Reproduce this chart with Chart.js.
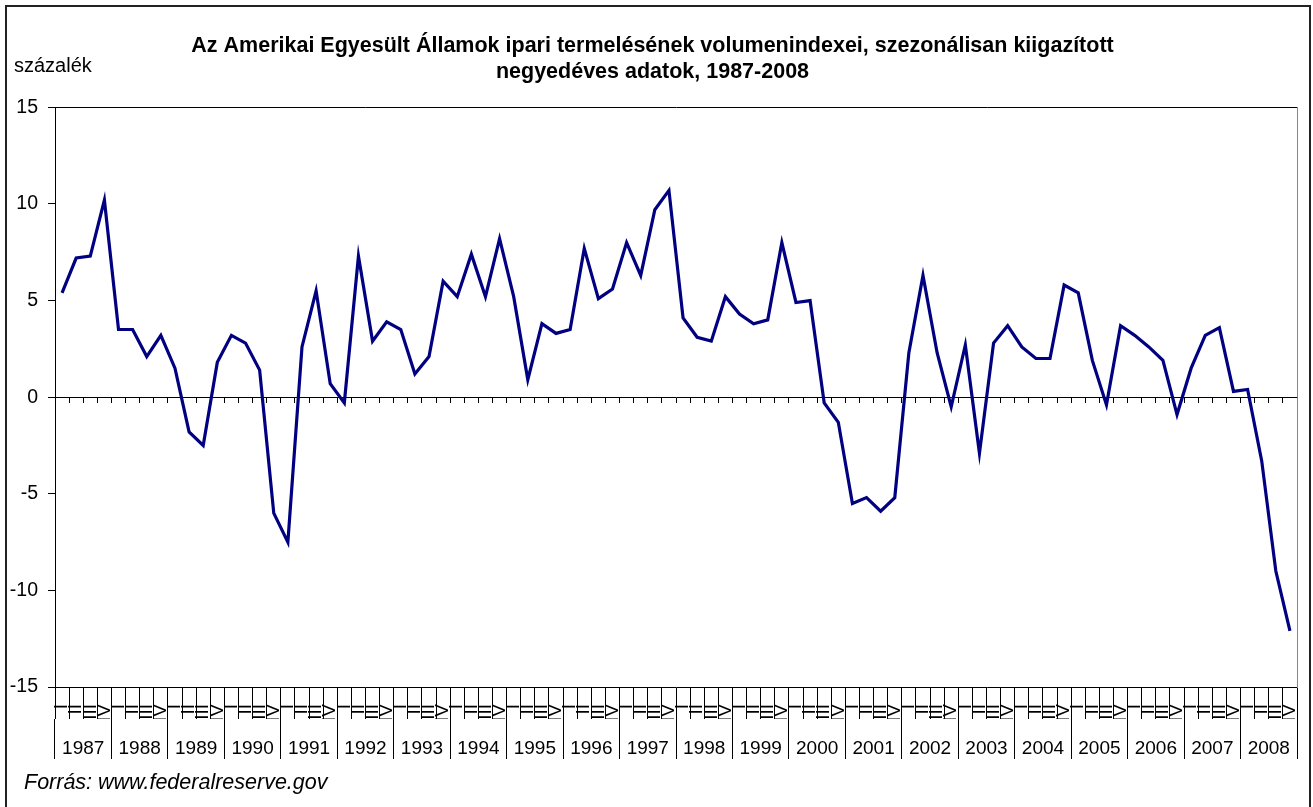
<!DOCTYPE html>
<html lang="hu">
<head>
<meta charset="utf-8">
<title>Ipari termelés volumenindexei</title>
<script src="https://cdn.jsdelivr.net/npm/chart.js@4.4.1/dist/chart.umd.min.js"></script>
<style>
    html, body { margin: 0; padding: 0; background: #fff; }
    #wrap { width: 1313px; height: 807px; position: relative; }
</style>
</head>
<body>
<div id="wrap"><canvas id="grafico"></canvas></div>
<script>
// evek es negyedevek a kategoria tengelyhez
const evek = ['1987','1988','1989','1990','1991','1992','1993','1994','1995','1996','1997',
              '1998','1999','2000','2001','2002','2003','2004','2005','2006','2007','2008'];
const negyedevek = ['I','II','III','IV'];

// volumenindex valtozas, szazalek (negyedevenkent, 1987 I. - 2008 IV.)
const ertekek = [
     5.4,  7.2,  7.3, 10.2,   // 1987
     3.5,  3.5,  2.1,  3.2,   // 1988
     1.5, -1.8, -2.5,  1.8,   // 1989
     3.2,  2.8,  1.4, -6.0,   // 1990
    -7.5,  2.6,  5.5,  0.7,   // 1991
    -0.3,  7.3,  2.9,  3.9,   // 1992
     3.5,  1.2,  2.1,  6.0,   // 1993
     5.2,  7.4,  5.2,  8.2,   // 1994
     5.2,  0.9,  3.8,  3.3,   // 1995
     3.5,  7.7,  5.1,  5.6,   // 1996
     8.0,  6.3,  9.7, 10.7,   // 1997
     4.1,  3.1,  2.9,  5.2,   // 1998
     4.3,  3.8,  4.0,  8.0,   // 1999
     4.9,  5.0, -0.3, -1.3,   // 2000
    -5.5, -5.2, -5.9, -5.2,   // 2001
     2.3,  6.3,  2.3, -0.5,   // 2002
     2.7, -2.9,  2.8,  3.7,   // 2003
     2.6,  2.0,  2.0,  5.8,   // 2004
     5.4,  1.9, -0.4,  3.7,   // 2005
     3.2,  2.6,  1.9, -0.9,   // 2006
     1.5,  3.2,  3.6,  0.3,   // 2007
     0.4, -3.3, -9.0, -12.1   // 2008
];

const yTicks = [-15, -10, -5, 0, 5, 10, 15];

const cimSorok = ['Az Amerikai Egyesült Államok ipari termelésének volumenindexei, szezonálisan kiigazított',
                  'negyedéves adatok, 1987-2008'];
const mertekegyseg = 'százalék';
const forras = 'Forrás: www.federalreserve.gov';

const betu = 'Arial, "Liberation Sans", sans-serif';

// negyedev cimkek minden evre
let kategoriak = [];
evek.forEach(() => negyedevek.forEach(q => kategoriak.push(q)));

/*
    keret a grafikon korul, plusz a mertekegyseg es a forras szovege
*/
const szovegek = {
    id: 'szovegek',
    beforeDraw(chart){
        let ctx = chart.ctx;
        ctx.save();
        ctx.fillStyle = '#fff';
        ctx.fillRect(0, 0, chart.width, chart.height);
        ctx.restore();
    },
    afterDraw(chart){
        let ctx = chart.ctx;
        ctx.save();
        ctx.strokeStyle = '#222';
        ctx.lineWidth = 2;
        ctx.strokeRect(6, 6, 1304, 810);
        ctx.fillStyle = '#000';
        ctx.textBaseline = 'alphabetic';
        ctx.textAlign = 'left';
        ctx.font = '20px ' + betu;
        ctx.fillText(mertekegyseg, 14, 72);
        ctx.font = 'italic 21.5px ' + betu;
        ctx.fillText(forras, 24, 789);
        ctx.restore();
    }
};

let grafico = document.getElementById('grafico');
let myChart = new Chart(grafico, {
    type: 'line',
    data: {
        labels: kategoriak,
        datasets: [{
            label: 'volumenindex',
            data: ertekek,
            borderColor: '#000080',
            borderWidth: 3.2,
            pointRadius: 0,
            tension: 0,
            xAxisID: 'x',
            yAxisID: 'y'
        }]
    },
    options: {
        responsive: true,
        maintainAspectRatio: false,
        animation: false,
        events: [],
        layout: { padding: { left: 8, right: 16, top: 0, bottom: 48 } },
        plugins: {
            legend: { display: false },
            tooltip: { enabled: false },
            title: {
                display: true,
                text: cimSorok,
                color: '#000',
                font: { family: betu, size: 21.5, weight: 'bold', lineHeight: 1.17 },
                padding: { top: 34, bottom: 23 }
            }
        },
        scales: {
            // negyedevek: osztasok es elforgatott cimkek
            x: {
                type: 'category',
                position: 'bottom',
                offset: true,
                grid: { offset: true, drawOnChartArea: false, tickLength: 32, color: '#000', tickColor: '#000' },
                border: { display: true, color: '#000', width: 1 },
                ticks: {
                    autoSkip: false, minRotation: 90, maxRotation: 90,
                    padding: -15, color: '#000',
                    font: { family: betu, size: 19 }
                },
                afterFit(scale){ scale.height = 32; }
            },
            // evek a negyedevek alatt
            xEv: {
                type: 'category',
                position: 'bottom',
                labels: evek,
                offset: true,
                grid: {
                    offset: true, drawOnChartArea: false, tickLength: 40,
                    tickColor: ctx => ctx.index === evek.length ? '#888' : '#000'
                },
                border: { display: false },
                ticks: { autoSkip: false, maxRotation: 0, padding: -22, color: '#000', font: { family: betu, size: 19 } },
                afterFit(scale){ scale.height = 40; }
            },
            // nulla vonal kis osztasokkal
            xNulla: {
                type: 'category',
                position: { y: 0 },
                offset: true,
                grid: { offset: true, drawOnChartArea: false, tickLength: 5, tickColor: '#000' },
                border: { display: true, color: '#000', width: 1 },
                ticks: { display: false }
            },
            xFelso: {
                type: 'category',
                position: 'top',
                grid: { display: true, drawOnChartArea: false, drawTicks: false },
                border: { display: true, color: '#000', width: 1 },
                ticks: { display: false },
                afterFit(scale){ scale.height = 0; }
            },
            y: {
                type: 'linear',
                min: -15,
                max: 15,
                afterBuildTicks(scale){ scale.ticks = yTicks.map(v => ({ value: v })); },
                grid: { drawOnChartArea: false, tickLength: 7, tickColor: '#000' },
                border: { display: true, color: '#000', width: 1 },
                ticks: { padding: 10, color: '#000', font: { family: betu, size: 19.5 } },
                afterFit(scale){ scale.width = 47; }
            },
            yJobb: {
                type: 'linear',
                position: 'right',
                min: -15,
                max: 15,
                grid: { display: true, drawOnChartArea: false, drawTicks: false },
                border: { display: true, color: '#888', width: 1 },
                ticks: { display: false },
                afterFit(scale){ scale.width = 0; }
            }
        }
    },
    plugins: [szovegek]
});
</script>
</body>
</html>
